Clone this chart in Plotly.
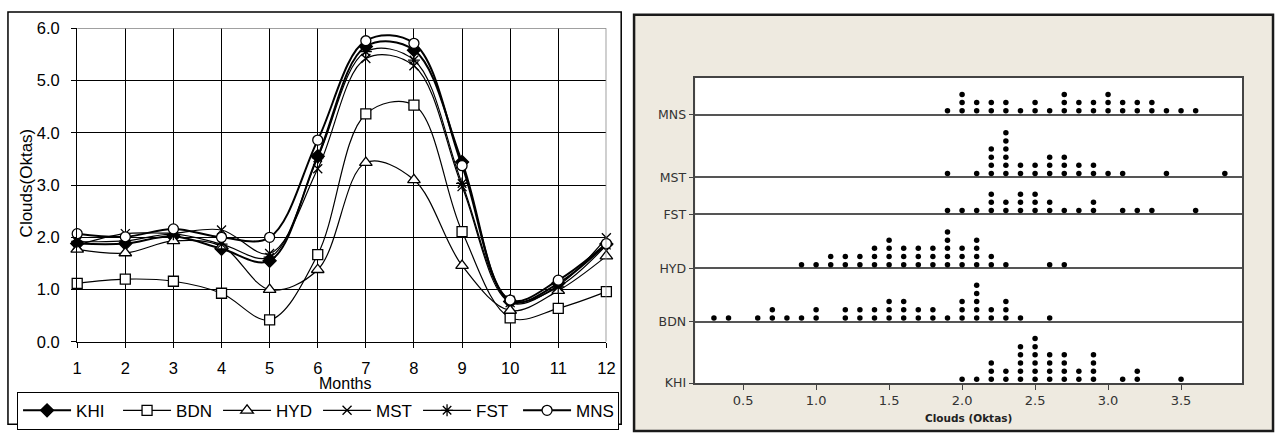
import plotly.graph_objects as go

# ---------------- monthly mean cloud cover (oktas) ----------------
months = list(range(1, 13))
khi = [1.88, 1.88, 2.02, 1.78, 1.55, 3.55, 5.65, 5.58, 3.44, 0.77, 1.12, 1.87]
bdn = [1.12, 1.20, 1.16, 0.93, 0.42, 1.67, 4.36, 4.53, 2.11, 0.46, 0.64, 0.96]
hyd = [1.77, 1.70, 1.93, 1.83, 1.00, 1.38, 3.43, 3.10, 1.46, 0.60, 0.98, 1.64]
mst = [1.85, 2.07, 2.08, 2.14, 1.69, 3.31, 5.42, 5.28, 2.97, 0.75, 1.08, 1.99]
fst = [1.92, 1.93, 2.06, 1.87, 1.62, 3.52, 5.55, 5.39, 3.03, 0.80, 1.05, 1.85]
mns = [2.07, 2.01, 2.16, 2.00, 2.00, 3.86, 5.76, 5.71, 3.37, 0.80, 1.18, 1.88]

month_ticks = [str(m) for m in months]
cloud_ticks = [0.0, 1.0, 2.0, 3.0, 4.0, 5.0, 6.0]

# ---------------- annual means per station: value -> number of years ----------------
khi_vals = [2.0, 2.1, 2.2, 2.3, 2.4, 2.5, 2.6, 2.7, 2.8, 2.9, 3.1, 3.2, 3.5]
khi_cnts = [1, 1, 3, 2, 5, 6, 4, 4, 2, 4, 1, 2, 1]
bdn_vals = [0.3, 0.4, 0.6, 0.7, 0.8, 0.9, 1.0, 1.2, 1.3, 1.4, 1.5, 1.6, 1.7, 1.8,
            1.9, 2.0, 2.1, 2.2, 2.3, 2.4, 2.6]
bdn_cnts = [1, 1, 1, 2, 1, 1, 2, 2, 2, 2, 3, 3, 2, 2, 1, 3, 5, 2, 3, 1, 1]
hyd_vals = [0.9, 1.0, 1.1, 1.2, 1.3, 1.4, 1.5, 1.6, 1.7, 1.8, 1.9, 2.0, 2.1, 2.2,
            2.3, 2.6, 2.7]
hyd_cnts = [1, 1, 2, 2, 2, 3, 4, 3, 3, 3, 5, 3, 4, 2, 1, 1, 1]
fst_vals = [1.9, 2.0, 2.1, 2.2, 2.3, 2.4, 2.5, 2.6, 2.7, 2.8, 2.9, 3.1, 3.2, 3.3, 3.6]
fst_cnts = [1, 1, 1, 3, 2, 3, 3, 2, 1, 1, 2, 1, 1, 1, 1]
mst_vals = [1.9, 2.1, 2.2, 2.3, 2.4, 2.5, 2.6, 2.7, 2.8, 2.9, 3.0, 3.1, 3.4, 3.8]
mst_cnts = [1, 1, 4, 6, 2, 2, 3, 3, 2, 2, 1, 1, 1, 1]
mns_vals = [1.9, 2.0, 2.1, 2.2, 2.3, 2.4, 2.5, 2.6, 2.7, 2.8, 2.9, 3.0, 3.1, 3.2,
            3.3, 3.4, 3.5, 3.6]
mns_cnts = [1, 3, 2, 2, 2, 1, 2, 1, 3, 2, 2, 3, 2, 2, 2, 1, 1, 1]

dot_ticks = [0.5, 1.0, 1.5, 2.0, 2.5, 3.0, 3.5]

# ---------------- layout geometry ----------------
W, H = 1284, 442


def px_x(p):
    return p / W


def px_y(p):
    return 1 - p / H


# row layout of the dot plot (pixels above the bottom axis)
ROW_BASE = {"KHI": 0, "BDN": 64, "HYD": 119.5, "FST": 176, "MST": 214.5, "MNS": 280}
DOT_OFFSET, DOT_STEP = 4, 8.5
DOT_PANEL_H = 318

LINE_FONT = "Liberation Sans, Arial, sans-serif"
DOT_FONT = "DejaVu Sans, Verdana, sans-serif"

fig = go.Figure()

series = [
    ("KHI", khi, dict(symbol="diamond", color="black", size=10), 2.0),
    ("BDN", bdn, dict(symbol="square", color="white", size=10), 1.2),
    ("HYD", hyd, dict(symbol="triangle-up", color="white", size=11), 1.2),
    ("MST", mst, dict(symbol="x-thin-open", color="black", size=9), 1.2),
    ("FST", fst, dict(symbol="asterisk-open", color="black", size=10), 1.2),
    ("MNS", mns, dict(symbol="circle", color="white", size=10), 2.0),
]
for name, vals, mk, lw in series:
    fig.add_trace(go.Scatter(
        x=months, y=vals, name=name, mode="lines+markers",
        line=dict(color="black", width=lw, shape="spline", smoothing=1.0),
        marker=dict(symbol=mk["symbol"], color=mk["color"], size=mk["size"],
                    line=dict(color="black", width=1.3)),
        cliponaxis=False, xaxis="x", yaxis="y",
    ))

# stacked dots, one column per value
dot_rows = [
    ("KHI", khi_vals, khi_cnts),
    ("BDN", bdn_vals, bdn_cnts),
    ("HYD", hyd_vals, hyd_cnts),
    ("FST", fst_vals, fst_cnts),
    ("MST", mst_vals, mst_cnts),
    ("MNS", mns_vals, mns_cnts),
]
for name, vals, cnts in dot_rows:
    xs, ys = [], []
    for v, c in zip(vals, cnts):
        for k in range(c):
            xs.append(v)
            ys.append(ROW_BASE[name] + DOT_OFFSET + DOT_STEP * k)
    fig.add_trace(go.Scatter(
        x=xs, y=ys, mode="markers", showlegend=False,
        marker=dict(color="black", size=5.5, line=dict(width=0)),
        cliponaxis=False, xaxis="x2", yaxis="y2",
    ))

shapes = [
    # beige panel behind the dot plot
    dict(type="rect", xref="paper", yref="paper", layer="below",
         x0=px_x(636), x1=px_x(1282), y0=px_y(440), y1=px_y(6),
         fillcolor="#EEEAE0", line=dict(color="#1a1a1a", width=2.5)),
    dict(type="rect", xref="paper", yref="paper", layer="below",
         x0=px_x(698), x1=px_x(1251), y0=px_y(390), y1=px_y(72),
         fillcolor="white", line=dict(width=0)),
    # frame of the line chart
    dict(type="rect", xref="paper", yref="paper", layer="below",
         x0=px_x(3), x1=px_x(623), y0=px_y(433), y1=px_y(3),
         line=dict(color="black", width=1.5)),
    # grey top / right border of the line chart plot area
    dict(type="line", xref="x", yref="y", x0=1, x1=12, y0=6, y1=6,
         line=dict(color="#808080", width=1.5)),
    dict(type="line", xref="x", yref="y", x0=12, x1=12, y0=0, y1=6,
         line=dict(color="#808080", width=1.5)),
]

annotations = [
    dict(text="Months", xref="paper", yref="paper", x=px_x(344), y=px_y(390),
         showarrow=False, font=dict(family=LINE_FONT, size=16, color="black"),
         xanchor="center", yanchor="middle"),
    dict(text="Clouds(Oktas)", xref="paper", yref="paper", x=px_x(22), y=px_y(181),
         textangle=-90, showarrow=False,
         font=dict(family=LINE_FONT, size=17, color="black"),
         xanchor="center", yanchor="middle"),
    dict(text="<b>Clouds (Oktas)</b>", xref="paper", yref="paper",
         x=px_x(974), y=px_y(426), showarrow=False,
         font=dict(family=DOT_FONT, size=10.5, color="#222"),
         xanchor="center", yanchor="middle"),
]

fig.update_layout(
    width=W, height=H,
    margin=dict(l=0, r=0, t=0, b=0),
    paper_bgcolor="white",
    plot_bgcolor="rgba(0,0,0,0)",
    shapes=shapes,
    annotations=annotations,
    xaxis=dict(
        domain=[px_x(73), px_x(608)], range=[1, 12],
        tickvals=months, ticktext=month_ticks,
        showgrid=True, gridcolor="black", gridwidth=1,
        showline=True, linecolor="black", linewidth=1.2,
        ticks="outside", ticklen=5, tickcolor="black",
        ticklabelstandoff=6,
        tickfont=dict(family=LINE_FONT, size=16.5, color="black"),
        zeroline=False, anchor="y",
    ),
    yaxis=dict(
        domain=[px_y(347), px_y(20)], range=[0, 6],
        tickvals=cloud_ticks, tickformat=".1f",
        showgrid=True, gridcolor="black", gridwidth=1,
        showline=True, linecolor="black", linewidth=1.2,
        ticks="outside", ticklen=5, tickcolor="black",
        ticklabelstandoff=8,
        tickfont=dict(family=LINE_FONT, size=16.5, color="black"),
        zeroline=False, anchor="x",
    ),
    xaxis2=dict(
        domain=[px_x(698), px_x(1251)], range=[0.173, 3.92],
        tickvals=dot_ticks, tickformat=".1f",
        showgrid=False, zeroline=False,
        showline=True, mirror=True, linecolor="#444", linewidth=1.5,
        ticks="outside", ticklen=5, tickcolor="#444",
        tickfont=dict(family=DOT_FONT, size=13, color="#333"),
        anchor="y2",
    ),
    yaxis2=dict(
        domain=[px_y(390), px_y(72)], range=[0, DOT_PANEL_H],
        tickvals=[ROW_BASE[n] for n, _, _ in dot_rows],
        ticktext=[n for n, _, _ in dot_rows],
        showgrid=True, gridcolor="#555", gridwidth=1.5,
        zeroline=False,
        showline=True, mirror=True, linecolor="#444", linewidth=1.5,
        ticks="outside", ticklen=5, tickcolor="#444",
        tickfont=dict(family=DOT_FONT, size=12.5, color="#333"),
        anchor="x2",
    ),
    legend=dict(
        orientation="h", x=px_x(316.5), xanchor="center",
        y=px_y(399), yanchor="top",
        bgcolor="white", bordercolor="black", borderwidth=1,
        font=dict(family=LINE_FONT, size=17, color="black"),
        itemwidth=48, entrywidth=37, tracegroupgap=0,
    ),
)

fig.write_html("out.html")
